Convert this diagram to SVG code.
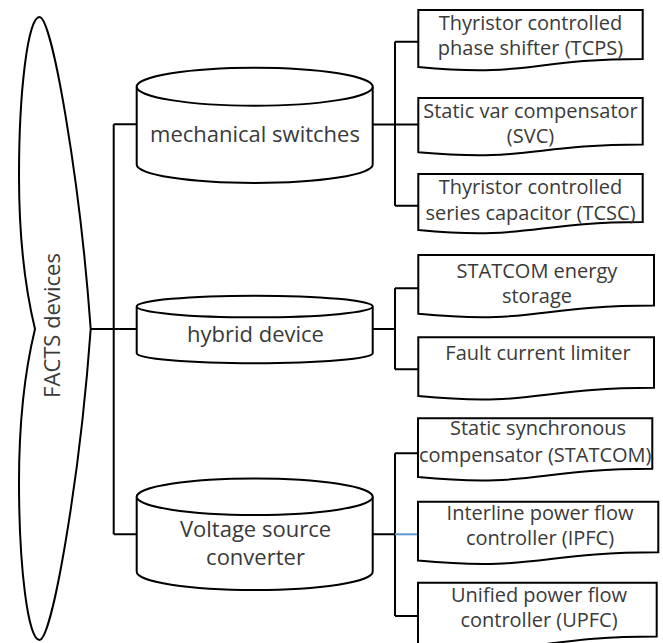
<svg xmlns="http://www.w3.org/2000/svg" width="663" height="643" viewBox="0 0 663 643">
<style>
.shape{fill:#ffffff;stroke:#000000;stroke-width:2}
.ln{fill:none;stroke:#000000;stroke-width:2}
.blue{fill:none;stroke:#5b9bd5;stroke-width:2}
.t{font-family:"Open Sans","Noto Sans",sans-serif;fill:#3a3a3a;text-anchor:middle}
.bt{font-size:20px}
.ct{font-size:22px}
</style>
<rect width="663" height="643" fill="#ffffff"/>
<g id="connectors">
<path class="ln" d="M113.7,124.3 V534.3 M113.7,124.3 H136.7 M90.7,329 H136.7 M113.7,534.3 H136.7"/>
<path class="ln" d="M395,41.7 V205.7 M395,41.7 H418.3 M372.7,124.6 H418.3 M395,205.7 H418.3"/>
<path class="ln" d="M395,288.3 V369.3 M395,288.3 H418.3 M372.7,329 H395 M395,369.3 H418.3"/>
<path class="ln" d="M395,453.3 V616 M395,453.3 H418 M372.7,534.3 H395 M395,616 H418"/>
<path class="blue" d="M395,534.3 H418"/>
</g>
<g id="facts">
<path class="shape" d="M35,329 C27,296 19,251 19,176 C19,90 28,17 39.5,17 C52,17 80,180 90.7,329 C80,478 52,640 39.5,640 C28,640 19,567 19,482 C19,407 27,362 35,329 Z"/>
<text class="t" font-size="22" transform="translate(60,325.5) rotate(-90)">FACTS devices</text>
</g>
<g id="mech">
<path class="shape" d="M136.7,86.7 V164.5 A118,18.5 0 0 0 372.7,164.5 V86.7"/>
<ellipse class="shape" cx="254.7" cy="86.7" rx="118" ry="19"/>
<text class="t ct" x="255" y="141.7">mechanical switches</text>
</g>
<g id="hybrid">
<path class="shape" d="M136.7,306.5 V353.3 A118,10 0 0 0 372.7,353.3 V306.5"/>
<ellipse class="shape" cx="254.7" cy="306.5" rx="118" ry="10.8"/>
<text class="t ct" x="255.5" y="341.7">hybrid device</text>
</g>
<g id="vsc">
<path class="shape" d="M136.7,496.7 V571.7 A118,18.3 0 0 0 372.7,571.7 V496.7"/>
<ellipse class="shape" cx="254.7" cy="496.7" rx="118" ry="18.3"/>
<text class="t ct" x="255.5" y="536.7">Voltage source</text>
<text class="t ct" x="255.5" y="565">converter</text>
</g>
<g id="tcps">
<path class="shape" d="M418.3,10 H642.7 V58.9 C530.5,58.9 530.5,77.6 418.3,67 Z"/>
<text class="t bt" x="530.5" y="30">Thyristor controlled</text>
<text class="t bt" x="530.5" y="55">phase shifter (TCPS)</text>
</g>
<g id="svc">
<path class="shape" d="M418.3,98 H642.7 V144.5 C530.5,144.5 530.5,162.2 418.3,152.2 Z"/>
<text class="t bt" x="530.5" y="118.3">Static var compensator</text>
<text class="t bt" x="530.5" y="143.3">(SVC)</text>
</g>
<g id="tcsc">
<path class="shape" d="M418.3,174 H642.7 V222.1 C530.5,222.1 530.5,240.5 418.3,230 Z"/>
<text class="t bt" x="530.5" y="194.3">Thyristor controlled</text>
<text class="t bt" x="530.5" y="220">series capacitor (TCSC)</text>
</g>
<g id="statcom-es">
<path class="shape" d="M418.3,255 H654 V305.5 C536.2,305.5 536.2,324.8 418.3,313.8 Z"/>
<text class="t bt" x="537" y="278.3">STATCOM energy</text>
<text class="t bt" x="537" y="303.3">storage</text>
</g>
<g id="fcl">
<path class="shape" d="M418.3,337.3 H654 V387.8 C536.2,387.8 536.2,407.1 418.3,396.1 Z"/>
<text class="t bt" x="538" y="360">Fault current limiter</text>
</g>
<g id="statcom">
<path class="shape" d="M418,418.3 H652.3 V468.8 C535.2,468.8 535.2,488.1 418,477.1 Z"/>
<text class="t bt" x="538" y="435">Static synchronous</text>
<text class="t bt" x="535.2" y="461.7">compensator (STATCOM)</text>
</g>
<g id="ipfc">
<path class="shape" d="M418,501.7 H658.3 V552.2 C538.2,552.2 538.2,571.5 418,560.5 Z"/>
<text class="t bt" x="540" y="520">Interline power flow</text>
<text class="t bt" x="540" y="545">controller (IPFC)</text>
</g>
<g id="upfc">
<path class="shape" d="M418,582.7 H656.7 V636.4 C537.4,636.4 537.4,656.9 418,645.3 Z"/>
<text class="t bt" x="539" y="601.7">Unified power flow</text>
<text class="t bt" x="539" y="626.7">controller (UPFC)</text>
</g>
</svg>
